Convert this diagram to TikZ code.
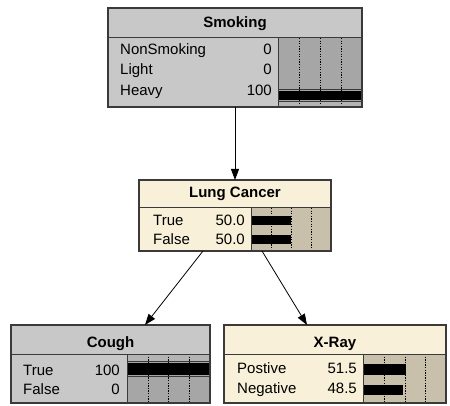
\documentclass[tikz,border=0pt]{standalone}
\usepackage{fontspec}
\setmainfont{Liberation Sans}
\usetikzlibrary{arrows.meta}
\definecolor{hdrgray}{HTML}{C8C8C8}
\definecolor{bargray}{HTML}{A6A6A6}
\definecolor{lightband}{HTML}{B4B4B4}
\definecolor{cream}{HTML}{F8F0D8}
\definecolor{tanbar}{HTML}{C8C0AA}
\definecolor{edge}{HTML}{3A3A3A}
\begin{document}
\begin{tikzpicture}[x=1pt,y=-1pt,
  font=\fontsize{15}{18}\selectfont,
  frame/.style={draw=edge, line width=1.3pt, inner sep=0pt, outer sep=0pt},
  sep/.style={draw=edge, line width=1pt},
  lbl/.style={anchor=base west, inner sep=0pt},
  num/.style={anchor=base east, inner sep=0pt},
  title/.style={anchor=base, inner sep=0pt, font=\fontsize{15}{18}\selectfont\bfseries},
  tick/.style={black, line width=0.6pt, dash pattern=on 1.3pt off 1.3pt},
  link/.style={line width=0.8pt, -{Triangle[length=11pt,width=8pt]}}]
\useasboundingbox (0,0) rectangle (450,406);

% ---------- Smoking ----------
\fill[hdrgray] (108,8) rectangle (362,107);
\fill[bargray] (278,38) rectangle (362,107);
\fill[lightband] (278,101) rectangle (362,107);
\foreach \x in {299,320,341} \draw[tick] (\x,38) -- (\x,107);
\fill[black] (278,91) rectangle (362,100);
\draw[edge, line width=0.8pt] (278,89) -- (362,89) (278,101.5) -- (362,101.5);
\draw[sep] (108,38) -- (362,38) (278,38) -- (278,107);
\node[frame, minimum width=254pt, minimum height=99pt] (smoking) at (235,57.5) {};
\node[title] (smokingT) at (235,28) {Smoking};
\node[lbl] (s1) at (120,55) {NonSmoking};
\node[lbl] (s2) at (120,75) {Light};
\node[lbl] (s3) at (120,96) {Heavy};
\node[num] (v1) at (272,55) {0};
\node[num] (v2) at (272,75) {0};
\node[num] (v3) at (272,96) {100};

% ---------- Lung Cancer ----------
\fill[cream] (139,180) rectangle (331,251);
\fill[tanbar] (251,208) rectangle (331,251);
\foreach \x in {271,291,311} \draw[tick] (\x,208) -- (\x,251);
\fill[black] (251,216.5) rectangle (291,225);
\fill[black] (251,235.5) rectangle (291,244);
\draw[sep] (139,208) -- (331,208) (251,208) -- (251,251);
\node[frame, minimum width=192pt, minimum height=71pt] (lc) at (235,215.5) {};
\node[title] (lcT) at (235,198) {Lung Cancer};
\node[lbl] (l1) at (153,226) {True};
\node[lbl] (l2) at (153,245) {False};
\node[num] (w1) at (245,226) {50.0};
\node[num] (w2) at (245,245) {50.0};

% ---------- Cough ----------
\fill[hdrgray] (11,325) rectangle (210,403);
\fill[bargray] (127,354) rectangle (210,403);
\fill[lightband] (127,354) rectangle (210,361);
\foreach \x in {148,168.5,189} \draw[tick] (\x,354) -- (\x,403);
\fill[black] (127,363) rectangle (210,375);
\draw[edge, line width=0.8pt] (127,361.5) -- (210,361.5) (127,376.5) -- (210,376.5);
\draw[sep] (11,354) -- (210,354) (127,354) -- (127,403);
\node[frame, minimum width=199pt, minimum height=78pt] (cough) at (110.5,364) {};
\node[title] (coughT) at (110.5,347) {Cough};
\node[lbl] (c1) at (23,375) {True};
\node[lbl] (c2) at (23,394) {False};
\node[num] (u1) at (120,375) {100};
\node[num] (u2) at (120,394) {0};

% ---------- X-Ray ----------
\fill[cream] (224,325) rectangle (446,403);
\fill[tanbar] (363,354) rectangle (446,403);
\foreach \x in {384,405,425} \draw[tick] (\x,354) -- (\x,403);
\fill[black] (363,363.5) rectangle (405.7,374.5);
\fill[black] (363,384.5) rectangle (403.3,395);
\draw[sep] (224,354) -- (446,354) (363,354) -- (363,403);
\node[frame, minimum width=222pt, minimum height=78pt] (xray) at (335,364) {};
\node[title] (xrayT) at (335,347) {X-Ray};
\node[lbl] (x1) at (237,373) {Postive};
\node[lbl] (x2) at (237,393) {Negative};
\node[num] (y1) at (357,373) {51.5};
\node[num] (y2) at (357,393) {48.5};

% ---------- links ----------
\draw[link] (smoking.south) -- (lc.north);
\draw[link] ([xshift=-32pt]lc.south) -- ([xshift=34.5pt]cough.north);
\draw[link] ([xshift=27pt]lc.south) -- ([xshift=-28pt]xray.north);
\end{tikzpicture}
\end{document}
